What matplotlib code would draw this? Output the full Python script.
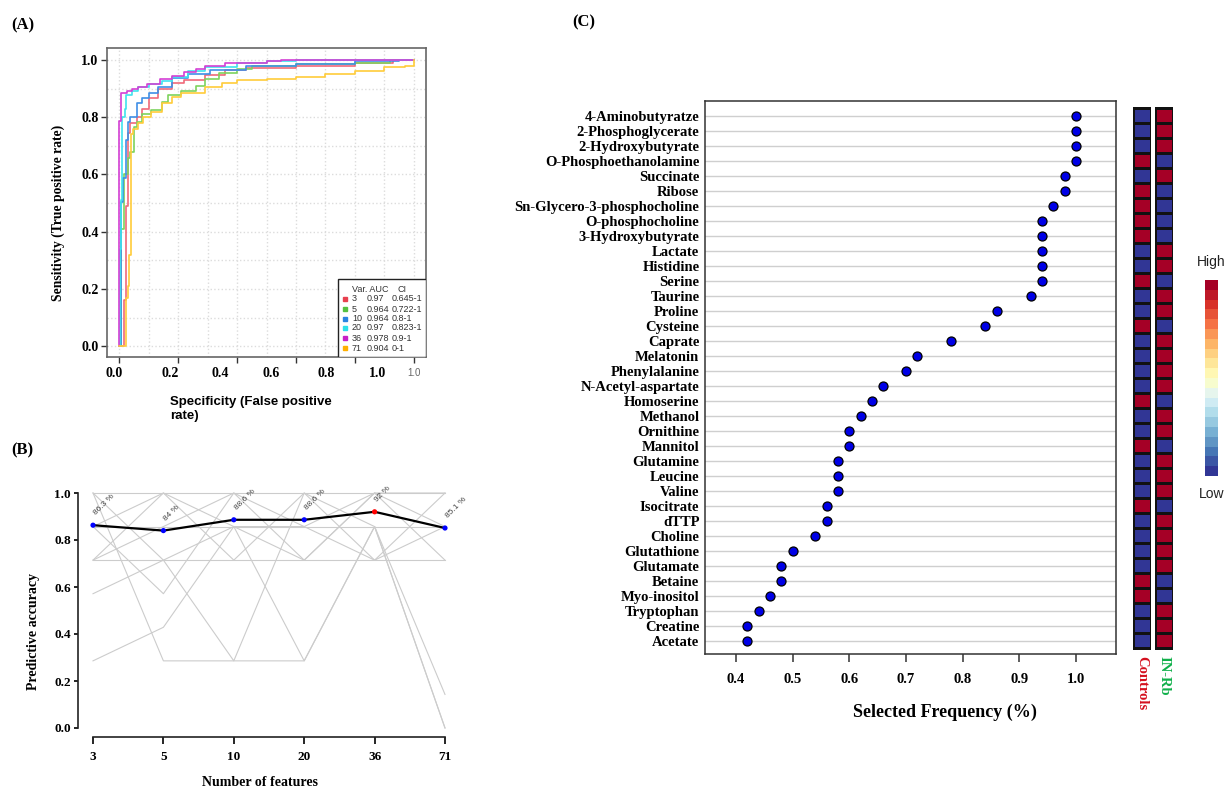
import matplotlib
matplotlib.use('Agg')
import matplotlib.pyplot as plt
import numpy as np
from matplotlib.colors import ListedColormap, BoundaryNorm
from matplotlib.cm import ScalarMappable
from matplotlib.patches import Rectangle

W, H = 1229, 789
fig = plt.figure(figsize=(W / 100, H / 100), dpi=100)
SERIF = 'Liberation Serif'
SANS = 'Liberation Sans'


def ax_px(l, t, r, b):
    return fig.add_axes([l / W, 1 - b / H, (r - l) / W, (b - t) / H])


# ---------------- DATA ----------------
# Panel A: ROC curves (fpr, tpr step points)
roc_vars = ['3', '5', '10', '20', '36', '71']
roc_auc = ['0.97', '0.964', '0.964', '0.97', '0.978', '0.904']
roc_ci = ['0.645-1', '0.722-1', '0.8-1', '0.823-1', '0.9-1', '0-1']
roc_colors = ['#f06a7a', '#7ed35e', '#3f8fe6', '#3fe3ee', '#d43fd4', '#ffcc3a']
legend_colors = ['#e8404f', '#55c040', '#2a84e0', '#2ee0ea', '#c820c8', '#ffb000']

roc3_fpr = [0, 0.018, 0.018, 0.023, 0.03, 0.037, 0.06, 0.077, 0.10, 0.133, 0.18, 0.22, 0.29, 0.36, 0.43, 0.60, 0.80, 0.93, 1.0]
roc3_tpr = [0, 0.16, 0.16, 0.49, 0.744, 0.78, 0.80, 0.83, 0.866, 0.90, 0.918, 0.93, 0.948, 0.965, 0.973, 0.98, 0.99, 1.0, 1.0]
roc5_fpr = [0, 0.007, 0.018, 0.03, 0.037, 0.05, 0.06, 0.077, 0.11, 0.145, 0.167, 0.21, 0.26, 0.29, 0.34, 0.40, 0.45, 0.60, 0.80, 0.92, 1.0]
roc5_tpr = [0, 0.41, 0.60, 0.656, 0.68, 0.767, 0.785, 0.81, 0.825, 0.855, 0.877, 0.89, 0.91, 0.935, 0.953, 0.97, 0.98, 0.985, 0.99, 1.0, 1.0]
roc10_fpr = [0, 0.007, 0.015, 0.023, 0.032, 0.037, 0.06, 0.077, 0.10, 0.133, 0.18, 0.235, 0.31, 0.43, 0.60, 0.80, 0.95, 1.0]
roc10_tpr = [0, 0.505, 0.586, 0.72, 0.785, 0.80, 0.85, 0.866, 0.883, 0.907, 0.936, 0.95, 0.965, 0.98, 0.985, 0.995, 1.0, 1.0]
roc20_fpr = [0, 0.003, 0.006, 0.009, 0.02, 0.023, 0.043, 0.066, 0.10, 0.145, 0.18, 0.235, 0.29, 0.40, 0.50, 0.60, 1.0]
roc20_tpr = [0, 0.34, 0.51, 0.80, 0.83, 0.877, 0.89, 0.905, 0.915, 0.925, 0.94, 0.96, 0.977, 0.99, 0.997, 1.0, 1.0]
roc36_fpr = [0, 0.0, 0.007, 0.026, 0.043, 0.066, 0.094, 0.14, 0.18, 0.22, 0.26, 0.29, 0.36, 0.50, 0.55, 1.0]
roc36_tpr = [0, 0.787, 0.883, 0.89, 0.90, 0.905, 0.915, 0.935, 0.945, 0.957, 0.97, 0.98, 0.988, 0.997, 1.0, 1.0]
roc71_fpr = [0, 0.023, 0.03, 0.034, 0.04, 0.048, 0.066, 0.083, 0.11, 0.145, 0.18, 0.21, 0.29, 0.35, 0.40, 0.50, 0.60, 0.70, 0.80, 0.90, 0.97, 1.0]
roc71_tpr = [0, 0.167, 0.21, 0.32, 0.74, 0.76, 0.78, 0.80, 0.82, 0.85, 0.87, 0.885, 0.905, 0.92, 0.93, 0.935, 0.94, 0.95, 0.96, 0.975, 0.98, 1.0]

# Panel B: feature-number accuracy
n_features = ['3', '5', '10', '20', '36', '71']
accuracy = [0.863, 0.840, 0.886, 0.886, 0.920, 0.851]
accuracy_labels = ['86.3 %', '84 %', '88.6 %', '88.6 %', '92 %', '85.1 %']
# cross-validation folds (correct predictions out of 7)
fold_correct = [
    [7, 7, 7, 7, 7, 7],
    [6, 6, 6, 6, 6, 6],
    [5, 5, 5, 5, 5, 5],
    [4, 5, 6, 6, 7, 6],
    [2, 3, 6, 2, 6, 0],
    [7, 2, 2, 2, 6, 1],
    [6, 4, 7, 5, 7, 7],
    [7, 5, 2, 7, 5, 6],
    [5, 7, 5, 7, 6, 0],
    [6, 7, 6, 5, 7, 5],
    [5, 6, 7, 6, 5, 7],
]
fold_size = 7

# Panel C: selection frequency
metabolites = ['4-Aminobutyratze', '2-Phosphoglycerate', '2-Hydroxybutyrate', 'O-Phosphoethanolamine',
               'Succinate', 'Ribose', 'Sn-Glycero-3-phosphocholine', 'O-phosphocholine',
               '3-Hydroxybutyrate', 'Lactate', 'Histidine', 'Serine', 'Taurine', 'Proline',
               'Cysteine', 'Caprate', 'Melatonin', 'Phenylalanine', 'N-Acetyl-aspartate',
               'Homoserine', 'Methanol', 'Ornithine', 'Mannitol', 'Glutamine', 'Leucine',
               'Valine', 'Isocitrate', 'dTTP', 'Choline', 'Glutathione', 'Glutamate',
               'Betaine', 'Myo-inositol', 'Tryptophan', 'Creatine', 'Acetate']
sel_freq = [1.0, 1.0, 1.0, 1.0, 0.98, 0.98, 0.96, 0.94, 0.94, 0.94, 0.94, 0.94, 0.92, 0.86,
            0.84, 0.78, 0.72, 0.70, 0.66, 0.64, 0.62, 0.60, 0.60, 0.58, 0.58, 0.58, 0.56,
            0.56, 0.54, 0.50, 0.48, 0.48, 0.46, 0.44, 0.42, 0.42]
# relative level per group (1 = high, 0 = low)
controls_level = [0, 0, 0, 1, 0, 1, 1, 1, 1, 0, 0, 1, 0, 0, 1, 0, 0, 0, 0, 1, 0, 0, 1, 0, 0,
                  0, 1, 0, 0, 0, 0, 1, 1, 0, 0, 0]
inrb_level = [1, 1, 1, 0, 1, 0, 0, 0, 0, 1, 1, 0, 1, 1, 0, 1, 1, 1, 1, 0, 1, 1, 0, 1, 1,
              1, 0, 1, 1, 1, 1, 0, 0, 1, 1, 1]
group_names = ['Controls', 'IN-Rb']
group_colors = ['#d4101e', '#10b04a']

# ---------------- PANEL A ----------------
axA = ax_px(107, 48, 426, 357)
rocs = [(roc3_fpr, roc3_tpr), (roc5_fpr, roc5_tpr), (roc10_fpr, roc10_tpr),
        (roc20_fpr, roc20_tpr), (roc36_fpr, roc36_tpr), (roc71_fpr, roc71_tpr)]
for (fx, ty), c in zip(rocs, roc_colors):
    axA.plot(fx, ty, drawstyle='steps-post', color=c, lw=1.2)
axA.set_xlim(-0.0407, 1.0407)
axA.set_ylim(-0.038, 1.042)
axA.set_xticks(np.arange(0, 1.01, 0.1), minor=True)
axA.set_yticks(np.arange(0, 1.01, 0.1), minor=True)
axA.set_xticks(np.arange(0, 1.01, 0.2))
axA.set_yticks(np.arange(0, 1.01, 0.2))
axA.grid(which='both', color='#dcdcdc', ls=':', lw=1.0)
axA.set_axisbelow(True)
axA.set_xticklabels([])
axA.set_yticklabels(['%.1f' % v for v in np.arange(0, 1.01, 0.2)],
                    fontfamily=SERIF, fontweight='bold', fontsize=10)
axA.tick_params(which='minor', length=0)
axA.tick_params(which='major', direction='out', length=4, width=1, color='#333', pad=2)
for s in axA.spines.values():
    s.set_color('#666')
    s.set_linewidth(1.2)
# misaligned x tick labels, as in the figure
xlab_pos = [-0.016, 0.173, 0.342, 0.514, 0.701, 0.876]
for p, v in zip(xlab_pos, ['0.0', '0.2', '0.4', '0.6', '0.8', '1.0']):
    axA.text(p, -0.053, v, transform=axA.get_xaxis_transform(), ha='center', va='center',
             fontfamily=SERIF, fontweight='bold', fontsize=10)
axA.text(1.0, -0.053, '1.0', transform=axA.get_xaxis_transform(), ha='center', va='center',
         fontfamily=SANS, fontsize=7, color='#666')
axA.set_ylabel('Sensitivity (True positive rate)', fontfamily=SERIF, fontweight='bold', fontsize=9.8)
axA.yaxis.set_label_coords(-0.1317, 0.4676)
axA.text(0.1975, -0.125, 'Specificity (False positive\nrate)', transform=axA.transAxes,
         ha='left', va='top', fontfamily=SANS, fontweight='bold', fontsize=9.5, linespacing=1.25)
# legend table
axA.add_patch(Rectangle((0.724, 0.0), 0.276, 0.252, transform=axA.transAxes, facecolor='white',
                        edgecolor='#222', lw=1.0, zorder=5))
axA.text(0.767, 0.217, 'Var. AUC', transform=axA.transAxes, fontfamily=SANS, fontsize=6.5,
         color='#333', va='center', zorder=6)
axA.text(0.912, 0.217, 'CI', transform=axA.transAxes, fontfamily=SANS, fontsize=6.5,
         color='#333', va='center', zorder=6)
row_y = [0.188, 0.155, 0.123, 0.094, 0.061, 0.029]
for yy, v, a, ci, c in zip(row_y, roc_vars, roc_auc, roc_ci, legend_colors):
    axA.plot([0.746], [yy], marker='s', ms=2.6, color=c, transform=axA.transAxes, zorder=6, clip_on=False)
    axA.text(0.768, yy, v, transform=axA.transAxes, fontfamily=SANS, fontsize=6.5, color='#333', va='center', zorder=6)
    axA.text(0.815, yy, a, transform=axA.transAxes, fontfamily=SANS, fontsize=6.5, color='#333', va='center', zorder=6)
    axA.text(0.893, yy, ci, transform=axA.transAxes, fontfamily=SANS, fontsize=6.5, color='#333', va='center', zorder=6)

fig.text(11 / W, 1 - 25 / H, '(A)', fontfamily=SERIF, fontweight='bold', fontsize=12, va='center', ha='left')

# ---------------- PANEL B ----------------
axB = ax_px(93, 493, 445, 728)
xs = np.arange(len(n_features))
for fold in fold_correct:
    axB.plot(xs, np.array(fold) / fold_size, color='#cccccc', lw=0.8, clip_on=False, zorder=1)
axB.plot(xs, accuracy, color='black', lw=1.6, zorder=3, clip_on=False)
best = int(np.argmax(accuracy))
pt_colors = ['red' if i == best else 'blue' for i in range(len(accuracy))]
axB.scatter(xs, accuracy, c=pt_colors, s=14, zorder=4, clip_on=False, linewidths=0)
for x, v, lab in zip(xs, accuracy, accuracy_labels):
    axB.annotate(lab, (x, v), xytext=(3, 6), textcoords='offset points', rotation=45,
                 rotation_mode='anchor', fontsize=6, color='#444', ha='left', va='bottom',
                 fontfamily=SANS, annotation_clip=False)
axB.set_xlim(0, len(xs) - 1)
axB.set_ylim(0, 1)
axB.spines['top'].set_visible(False)
axB.spines['right'].set_visible(False)
axB.spines['left'].set_position(('outward', 10.8))
axB.spines['bottom'].set_position(('outward', 6.5))
axB.spines['left'].set_bounds(0, 1)
axB.spines['bottom'].set_bounds(0, len(xs) - 1)
for s in ('left', 'bottom'):
    axB.spines[s].set_linewidth(1.2)
    axB.spines[s].set_color('#222')
axB.set_yticks(np.arange(0, 1.01, 0.2))
axB.set_yticklabels(['%.1f' % v for v in np.arange(0, 1.01, 0.2)], fontfamily=SERIF,
                    fontweight='bold', fontsize=9.5)
axB.set_xticks(xs)
axB.set_xticklabels(n_features, fontfamily=SERIF, fontweight='bold', fontsize=9.5)
axB.tick_params(axis='y', length=3, width=1.2, pad=2)
axB.tick_params(axis='x', length=5, width=1.2, pad=5)
axB.set_ylabel('Predictive accuracy', fontfamily=SERIF, fontweight='bold', fontsize=10)
axB.yaxis.set_label_coords(-0.1506, 0.41)
axB.set_xlabel('Number of features', fontfamily=SERIF, fontweight='bold', fontsize=10, va='center')
axB.xaxis.set_label_coords(0.474, -0.234)
fig.text(11 / W, 1 - 450 / H, '(B)', fontfamily=SERIF, fontweight='bold', fontsize=12, va='center', ha='left')

# ---------------- PANEL C ----------------
axC = ax_px(705, 101, 1116, 654)
rows = np.arange(len(metabolites))
axC.scatter(sel_freq, rows, s=42, color='#0000e6', edgecolors='black', linewidths=0.9, zorder=3)
axC.set_xlim(0.3453, 1.0706)
axC.set_ylim(len(metabolites) - 0.13, -1.0)
axC.set_yticks(rows)
axC.set_yticklabels(metabolites, fontfamily=SERIF, fontweight='bold', fontsize=10.5)
axC.tick_params(axis='y', length=0, pad=4)
axC.grid(axis='y', color='#cfcfcf', lw=1.0)
axC.set_axisbelow(True)
axC.set_xticks(np.arange(0.4, 1.01, 0.1))
axC.set_xticklabels(['%.1f' % v for v in np.arange(0.4, 1.01, 0.1)], fontfamily=SERIF,
                    fontweight='bold', fontsize=10.5)
axC.tick_params(axis='x', length=6, width=1.1, pad=8, color='#333')
for s in axC.spines.values():
    s.set_color('#333')
    s.set_linewidth(1.1)
axC.set_xlabel('Selected Frequency (%)', fontfamily=SERIF, fontweight='bold', fontsize=13, va='center')
axC.xaxis.set_label_coords(0.584, -0.105)
fig.text(572 / W, 1 - 22 / H, '(C)', fontfamily=SERIF, fontweight='bold', fontsize=12, va='center', ha='left')

# heatmap columns
hm_cmap = ListedColormap(['#313695', '#a50026'])
edges_y = np.arange(len(metabolites) + 1) - 0.5
for (x0, x1), level, name, gcol in zip([(1133, 1151), (1155, 1173)], [controls_level, inrb_level],
                                        group_names, group_colors):
    axh = ax_px(x0, 101, x1, 654)
    axh.pcolormesh([0, 1], edges_y, np.array(level).reshape(-1, 1), cmap=hm_cmap, vmin=0, vmax=1,
                   edgecolors='#111', linewidth=1.0)
    axh.set_ylim(len(metabolites) - 0.13, -1.0)
    axh.set_xlim(0, 1)
    axh.axis('off')
    fig.text((x0 + x1) / 2 / W, 1 - 656 / H, name, rotation=-90, ha='center', va='top',
             fontfamily=SERIF, fontweight='bold', fontsize=10.5, color=gcol)

# colour key
n_levels = 20
key_cmap = ListedColormap(plt.get_cmap('RdYlBu_r')(np.linspace(0, 1, n_levels)))
key_norm = BoundaryNorm(np.linspace(0, 1, n_levels + 1), n_levels)
cax = ax_px(1205, 280, 1218, 476)
cb = fig.colorbar(ScalarMappable(norm=key_norm, cmap=key_cmap), cax=cax, ticks=[])
cb.ax.minorticks_off()
cb.ax.tick_params(which='both', length=0)
cb.outline.set_visible(False)
fig.text(1211.5 / W, 1 - 262 / H, 'High', ha='center', va='center', fontfamily=SANS, fontsize=10, color='#222')
fig.text(1211.5 / W, 1 - 494 / H, 'Low', ha='center', va='center', fontfamily=SANS, fontsize=10, color='#222')

fig.savefig('out.png', dpi=100)
